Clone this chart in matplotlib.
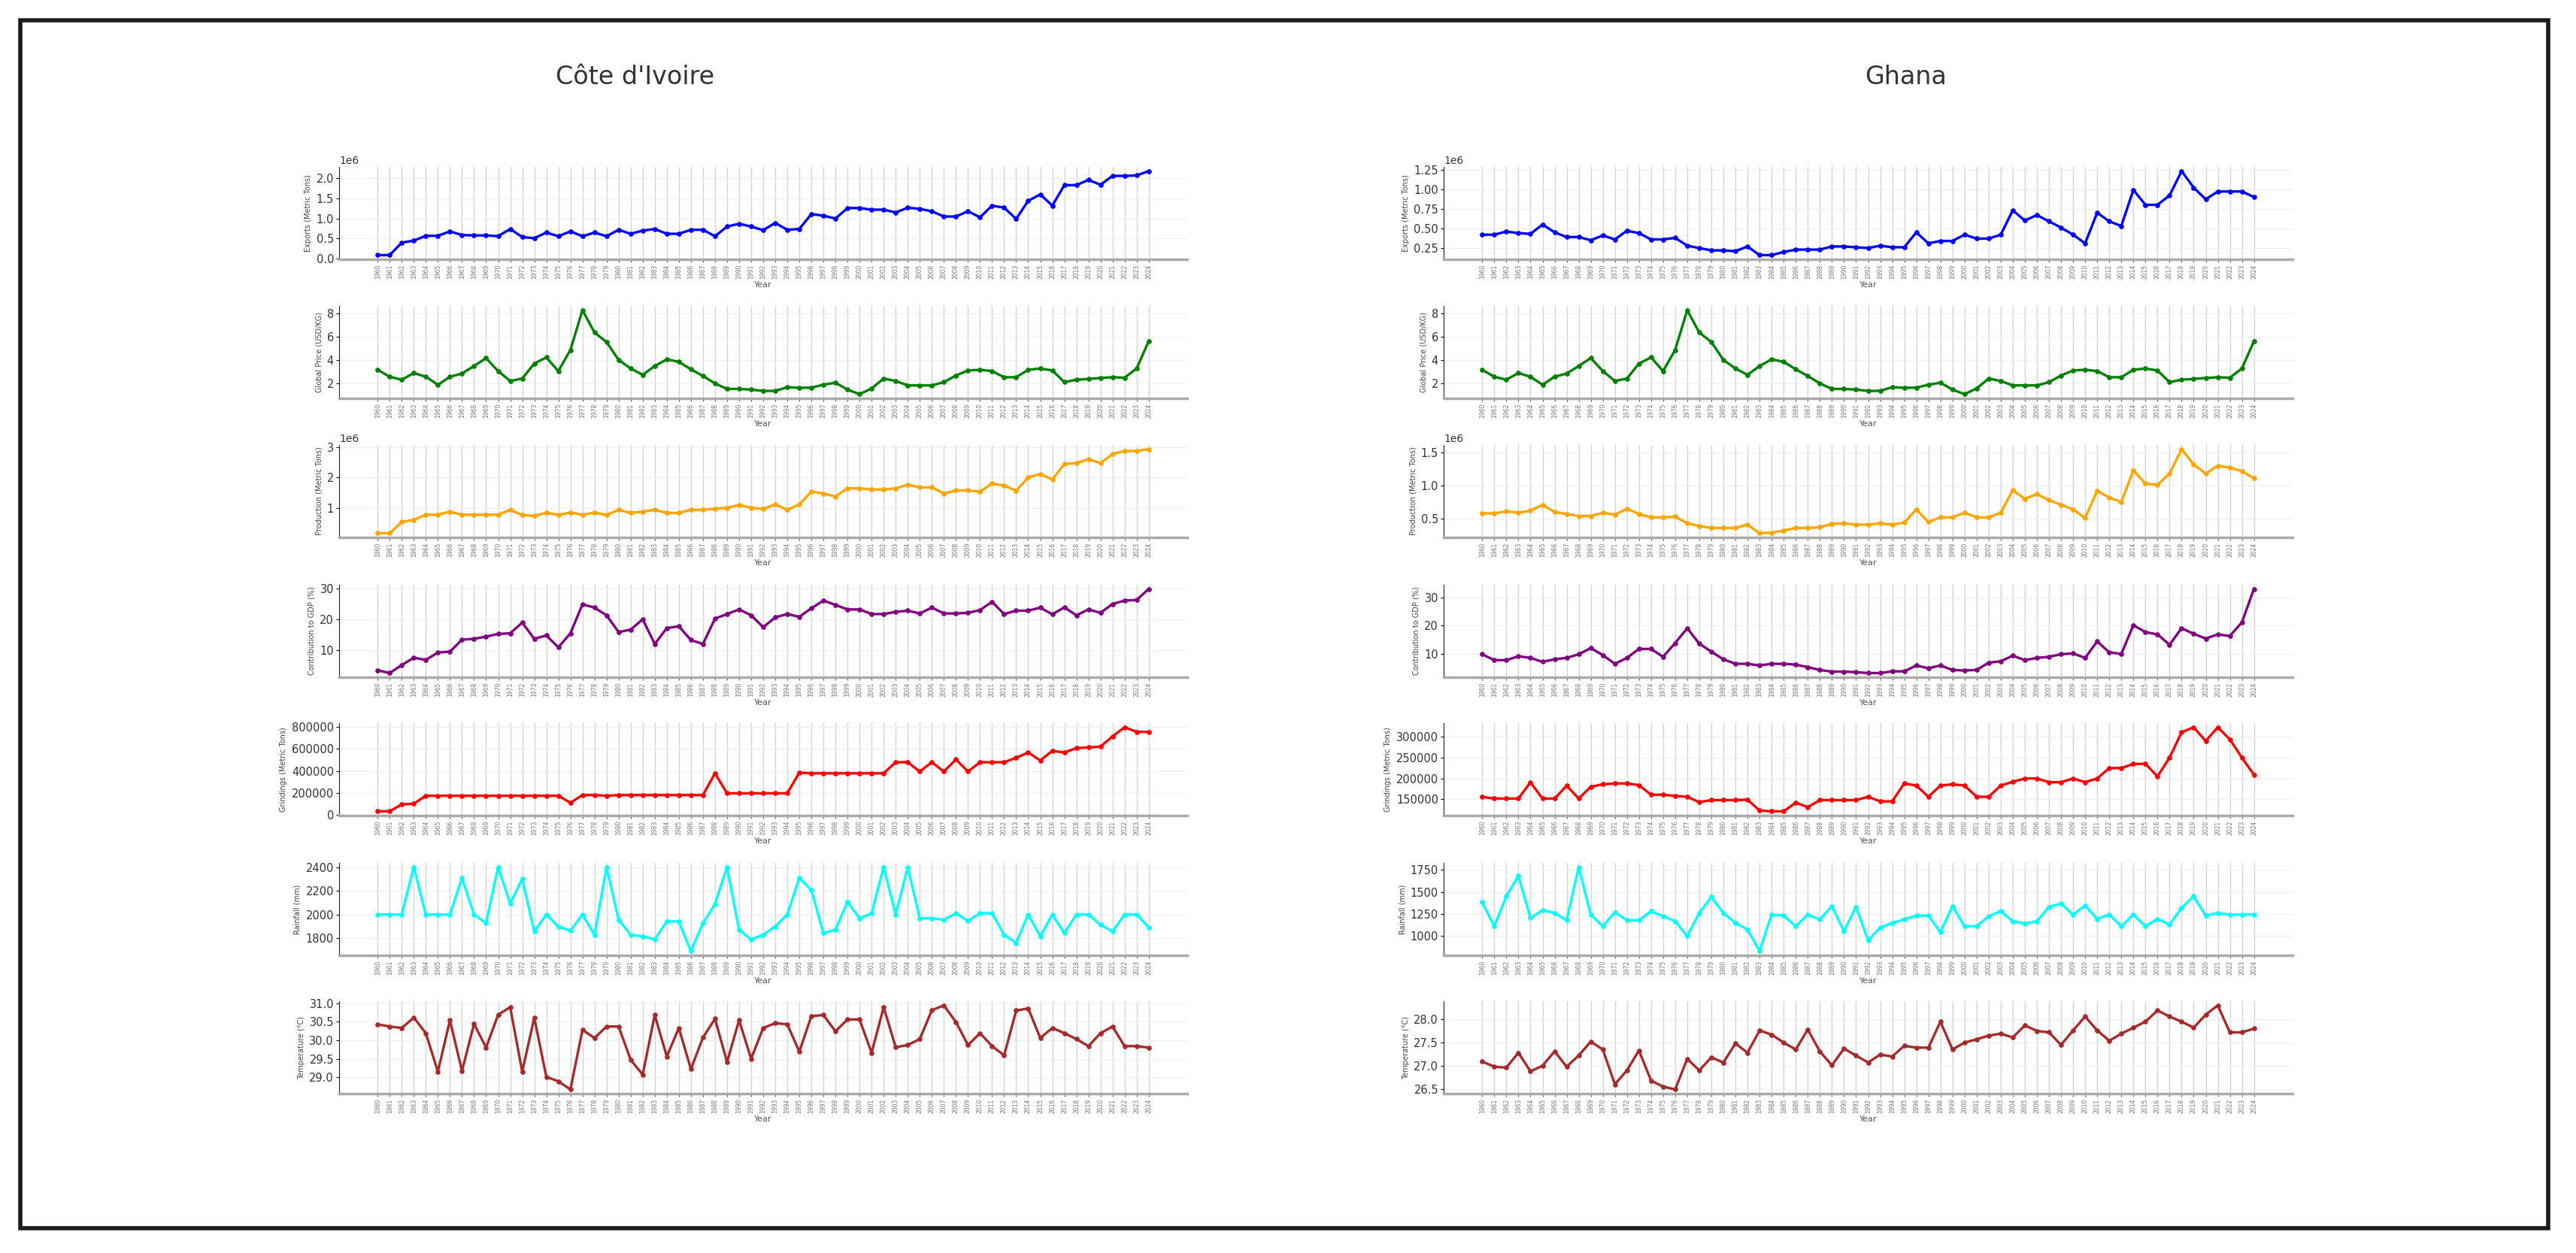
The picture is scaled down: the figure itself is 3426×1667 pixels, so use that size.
import matplotlib
matplotlib.use("Agg")
import matplotlib.pyplot as plt
from matplotlib.patches import Rectangle
from matplotlib.ticker import MultipleLocator

# Years on the x axis (65 points)
years = list(range(1960, 2025))

# Global cocoa price, same for both countries (USD/KG)
global_price = [3.15, 2.55, 2.3, 2.87, 2.55, 1.87, 2.55, 2.83, 3.47, 4.15,
                3.04, 2.19, 2.4, 3.68, 4.21, 3.04, 4.85, 8.26, 6.34, 5.53,
                4.0, 3.26, 2.72, 3.47, 4.04, 3.83, 3.19, 2.62, 1.98, 1.51,
                1.51, 1.45, 1.34, 1.34, 1.66, 1.6, 1.62, 1.87, 2.04, 1.45,
                1.06, 1.55, 2.4, 2.19, 1.81, 1.81, 1.81, 2.09, 2.66, 3.09,
                3.15, 3.04, 2.51, 2.51, 3.15, 3.26, 3.09, 2.09, 2.3, 2.36,
                2.45, 2.51, 2.47, 3.26, 5.6]

# Cote d'Ivoire series
civ_exports = [0.09, 0.09, 0.40, 0.45, 0.57, 0.57, 0.68, 0.59, 0.58, 0.58,
               0.56, 0.74, 0.54, 0.51, 0.65, 0.56, 0.68, 0.56, 0.65, 0.56,
               0.72, 0.62, 0.70, 0.74, 0.62, 0.62, 0.72, 0.72, 0.56, 0.80,
               0.87, 0.80, 0.71, 0.89, 0.72, 0.74, 1.11, 1.07, 1.00, 1.26,
               1.26, 1.22, 1.22, 1.15, 1.27, 1.24, 1.18, 1.05, 1.05, 1.18,
               1.03, 1.32, 1.27, 0.99, 1.44, 1.60, 1.32, 1.83, 1.83, 1.96,
               1.84, 2.06, 2.06, 2.07, 2.18]
civ_exports = [v * 1e6 for v in civ_exports]

civ_production = [0.16, 0.16, 0.53, 0.60, 0.77, 0.77, 0.87, 0.77, 0.77, 0.77,
                  0.77, 0.93, 0.76, 0.73, 0.84, 0.76, 0.84, 0.77, 0.84, 0.76,
                  0.93, 0.83, 0.87, 0.93, 0.83, 0.83, 0.93, 0.93, 0.97, 1.00,
                  1.09, 1.00, 0.96, 1.11, 0.93, 1.11, 1.53, 1.47, 1.37, 1.64,
                  1.64, 1.60, 1.60, 1.64, 1.76, 1.67, 1.67, 1.47, 1.57, 1.57,
                  1.53, 1.80, 1.73, 1.56, 2.00, 2.11, 1.93, 2.44, 2.47, 2.60,
                  2.47, 2.77, 2.87, 2.87, 2.93]
civ_production = [v * 1e6 for v in civ_production]

civ_gdp = [3.3, 2.4, 5.0, 7.4, 6.7, 9.1, 9.4, 13.3, 13.6, 14.3,
           15.2, 15.4, 18.9, 13.6, 14.7, 10.8, 15.4, 24.9, 23.8, 21.3,
           15.8, 16.6, 20.0, 11.9, 17.1, 17.7, 13.2, 11.9, 20.2, 21.7,
           23.2, 21.3, 17.4, 20.6, 21.7, 20.8, 23.6, 26.1, 24.7, 23.2,
           23.2, 21.7, 21.7, 22.4, 22.8, 21.9, 23.8, 21.9, 21.9, 22.1,
           23.0, 25.7, 21.7, 22.8, 22.8, 23.8, 21.6, 23.9, 21.3, 23.2,
           22.1, 25.0, 26.1, 26.3, 29.9]

civ_grindings = [34, 34, 97, 103, 175, 175, 175, 175, 175, 175,
                 175, 175, 175, 175, 175, 175, 112, 181, 181, 175,
                 181, 181, 181, 181, 181, 181, 181, 181, 378, 197,
                 197, 197, 197, 197, 197, 384, 378, 378, 378, 378,
                 378, 378, 378, 478, 478, 394, 478, 394, 503, 394,
                 478, 478, 478, 519, 566, 494, 581, 566, 606, 612,
                 619, 712, 794, 753, 753]
civ_grindings = [v * 1000 for v in civ_grindings]

civ_rainfall = [2000, 2000, 2000, 2400, 2000, 2000, 2000, 2308, 2000, 1928,
                2400, 2094, 2300, 1858, 2000, 1900, 1864, 2000, 1830, 2400,
                1956, 1830, 1817, 1790, 1942, 1942, 1692, 1928, 2086, 2400,
                1872, 1790, 1830, 1900, 2000, 2308, 2206, 1844, 1872, 2108,
                1969, 2011, 2400, 2000, 2400, 1969, 1969, 1956, 2011, 1947,
                2011, 2011, 1830, 1761, 2000, 1817, 2000, 1844, 2000, 2000,
                1914, 1858, 2000, 2000, 1892]

civ_temperature = [30.43, 30.37, 30.33, 30.61, 30.19, 29.15, 30.54, 29.17, 30.44, 29.80,
                   30.69, 30.89, 29.15, 30.61, 29.01, 28.89, 28.67, 30.28, 30.06, 30.37,
                   30.37, 29.47, 29.07, 30.68, 29.56, 30.33, 29.22, 30.07, 30.58, 29.41,
                   30.54, 29.50, 30.33, 30.46, 30.43, 29.69, 30.65, 30.68, 30.24, 30.56,
                   30.56, 29.66, 30.89, 29.81, 29.87, 30.03, 30.81, 30.94, 30.49, 29.87,
                   30.19, 29.84, 29.59, 30.80, 30.86, 30.06, 30.33, 30.19, 30.03, 29.84,
                   30.19, 30.37, 29.84, 29.84, 29.80]

# Ghana series
gha_exports = [0.42, 0.42, 0.46, 0.44, 0.43, 0.55, 0.45, 0.39, 0.39, 0.35,
               0.41, 0.36, 0.47, 0.44, 0.36, 0.36, 0.38, 0.28, 0.25, 0.22,
               0.22, 0.21, 0.27, 0.16, 0.16, 0.20, 0.23, 0.23, 0.23, 0.27,
               0.27, 0.26, 0.25, 0.28, 0.26, 0.26, 0.45, 0.31, 0.34, 0.34,
               0.42, 0.37, 0.37, 0.42, 0.73, 0.60, 0.67, 0.59, 0.51, 0.42,
               0.31, 0.70, 0.59, 0.53, 0.99, 0.80, 0.80, 0.92, 1.23, 1.02,
               0.87, 0.97, 0.97, 0.97, 0.90]
gha_exports = [v * 1e6 for v in gha_exports]

gha_production = [0.58, 0.58, 0.61, 0.59, 0.62, 0.71, 0.60, 0.57, 0.54, 0.54,
                  0.59, 0.56, 0.65, 0.57, 0.52, 0.52, 0.53, 0.43, 0.39, 0.36,
                  0.36, 0.36, 0.41, 0.28, 0.29, 0.32, 0.36, 0.36, 0.37, 0.42,
                  0.43, 0.41, 0.41, 0.43, 0.41, 0.44, 0.64, 0.45, 0.52, 0.52,
                  0.59, 0.52, 0.52, 0.59, 0.93, 0.80, 0.87, 0.78, 0.71, 0.64,
                  0.51, 0.92, 0.82, 0.75, 1.23, 1.03, 1.01, 1.18, 1.55, 1.32,
                  1.18, 1.30, 1.27, 1.22, 1.11]
gha_production = [v * 1e6 for v in gha_production]

gha_gdp = [9.8, 7.7, 7.7, 9.1, 8.5, 7.1, 8.0, 8.5, 9.8, 12.0,
           9.5, 6.4, 8.5, 11.7, 11.7, 8.9, 13.8, 19.1, 13.6, 10.7,
           8.0, 6.4, 6.4, 5.8, 6.4, 6.4, 6.1, 5.2, 4.2, 3.6,
           3.6, 3.4, 3.1, 3.1, 3.7, 3.7, 5.8, 4.8, 5.8, 4.2,
           4.0, 4.2, 6.8, 7.3, 9.3, 7.7, 8.5, 8.9, 9.8, 10.1,
           8.5, 14.4, 10.5, 9.9, 20.2, 17.7, 16.9, 13.2, 19.1, 17.1,
           15.4, 16.9, 16.3, 21.2, 33.1]

gha_grindings = [155.7, 151.7, 151.7, 151.7, 190.8, 151.7, 151.7, 182.6, 151.7, 180,
                 186, 188, 188, 184, 161, 161, 158, 156, 143, 148,
                 148, 148, 149, 123, 121, 121, 142, 131, 148, 148,
                 148, 148, 156, 145, 145, 188, 183, 156, 183, 186,
                 183, 156, 156, 183, 192, 200, 200, 191, 191, 200,
                 191, 200, 225, 225, 235, 235, 205, 250, 311, 323,
                 290, 323, 294, 250, 209]
gha_grindings = [v * 1000 for v in gha_grindings]

gha_rainfall = [1382, 1112, 1450, 1682, 1206, 1292, 1262, 1180, 1780, 1244,
                1112, 1270, 1180, 1180, 1281, 1225, 1169, 1000, 1262, 1442,
                1262, 1150, 1075, 831, 1244, 1232, 1112, 1244, 1188, 1338,
                1056, 1330, 955, 1094, 1150, 1188, 1232, 1232, 1045, 1338,
                1112, 1112, 1225, 1281, 1169, 1142, 1169, 1330, 1368, 1244,
                1345, 1195, 1244, 1112, 1244, 1112, 1195, 1131, 1319, 1450,
                1232, 1262, 1244, 1244, 1244]

gha_temperature = [27.09, 26.98, 26.96, 27.28, 26.88, 27.00, 27.31, 26.98, 27.22, 27.52,
                   27.35, 26.60, 26.90, 27.33, 26.68, 26.55, 26.49, 27.15, 26.90, 27.18,
                   27.07, 27.48, 27.28, 27.76, 27.67, 27.50, 27.35, 27.78, 27.31, 27.01,
                   27.37, 27.22, 27.07, 27.24, 27.20, 27.43, 27.39, 27.39, 27.95, 27.35,
                   27.50, 27.57, 27.65, 27.69, 27.61, 27.87, 27.75, 27.72, 27.45, 27.76,
                   28.06, 27.76, 27.54, 27.69, 27.82, 27.95, 28.19, 28.06, 27.95, 27.82,
                   28.10, 28.30, 27.72, 27.72, 27.80]

# labels and colours for the seven rows
row_labels = ['Exports (Metric Tons)', 'Global Price (USD/KG)', 'Production (Metric Tons)',
              'Contribution to GDP (%)', 'Grindings (Metric Tons)', 'Rainfall (mm)',
              'Temperature (°C)']
row_colors = ['blue', 'green', 'orange', 'purple', 'red', 'cyan', 'brown']

civ_rows = [civ_exports, global_price, civ_production, civ_gdp,
            civ_grindings, civ_rainfall, civ_temperature]
gha_rows = [gha_exports, global_price, gha_production, gha_gdp,
            gha_grindings, gha_rainfall, gha_temperature]

# y tick spacing seen in each panel
civ_steps = [0.5e6, 2, 1e6, 10, 200000, 200, 0.5]
gha_steps = [0.25e6, 2, 0.5e6, 10, 50000, 250, 0.5]

W, H = 3426, 1667
row_tops = [222, 407, 592, 778, 962, 1148, 1332]
row_height = 123


# Draw one small panel
def draw_panel(fig, left_px, width_px, top_px, values, label, color, step):
    ax = fig.add_axes([left_px / W, 1 - (top_px + row_height) / H,
                       width_px / W, row_height / H])
    ax.plot(years, values, color=color, marker='o', markersize=3.8, linewidth=2.4)
    ax.yaxis.set_major_locator(MultipleLocator(step))
    ax.set_xticks(years)
    ax.set_xticklabels([str(y) for y in years], rotation=90, fontsize=5.5, color='#777777')
    ax.set_xlabel('Year', fontsize=8, color='#555555', labelpad=2)
    ax.set_ylabel(label, fontsize=7, color='#444444')
    ax.tick_params(axis='y', labelsize=10.5, length=3, pad=2, labelcolor='#333333')
    ax.tick_params(axis='x', length=3, color='#555555', pad=2)
    ax.yaxis.get_offset_text().set_fontsize(10)
    ax.yaxis.get_offset_text().set_color('#333333')
    ax.grid(axis='x', color='#d4d4d4', linewidth=1.0)
    ax.grid(axis='y', color='#eeeeee', linewidth=0.8)
    ax.spines['top'].set_visible(False)
    ax.spines['right'].set_visible(False)
    ax.spines['left'].set_color('#222222')
    ax.spines['bottom'].set_color('#aaaaaa')
    ax.spines['bottom'].set_linewidth(2.5)
    ax.set_axisbelow(True)
    return ax


def main():
    fig = plt.figure(figsize=(W / 100, H / 100), dpi=100)

    # outer frame
    fig.patches.append(Rectangle((27 / W, 1 - 1634 / H), (3389 - 27) / W, (1634 - 27) / H,
                                 transform=fig.transFigure, fill=False,
                                 edgecolor='#1a1a1a', linewidth=4))

    fig.text(845 / W, 1 - 103 / H, "Côte d'Ivoire", fontsize=24, color='#333333',
             ha='center', va='center')
    fig.text(2535 / W, 1 - 103 / H, "Ghana", fontsize=24, color='#333333',
             ha='center', va='center')

    for i in range(7):
        draw_panel(fig, 451, 1128, row_tops[i], civ_rows[i], row_labels[i],
                   row_colors[i], civ_steps[i])
        draw_panel(fig, 1920, 1129, row_tops[i], gha_rows[i], row_labels[i],
                   row_colors[i], gha_steps[i])

    fig.savefig('out.png', dpi=100)


if __name__ == "__main__":
    main()
